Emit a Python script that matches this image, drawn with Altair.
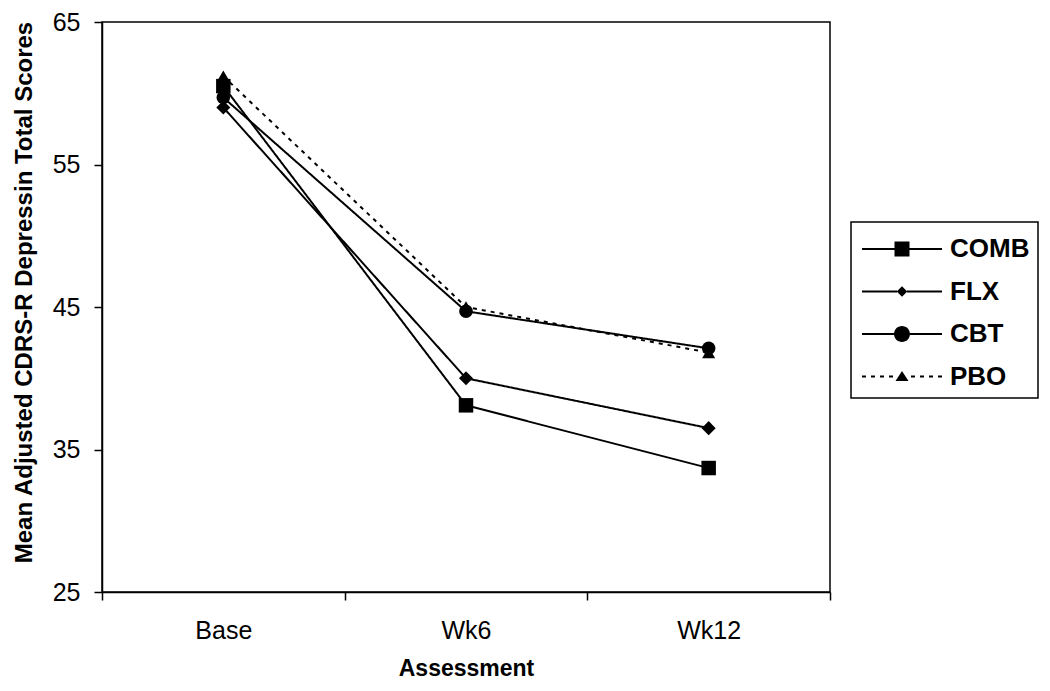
import json
import altair as alt
import pandas as pd

# ---- data ----
categories = ["Base", "Wk6", "Wk12"]
series = ["COMB", "FLX", "CBT", "PBO"]
comb = [60.5, 38.1, 33.7]
flx = [59.0, 40.0, 36.5]
cbt = [59.7, 44.7, 42.1]
pbo = [61.2, 45.0, 41.8]
y_ticks = [25, 35, 45, 55, 65]

rows = []
for name, vals in zip(series, [comb, flx, cbt, pbo]):
    for i, (cat, v) in enumerate(zip(categories, vals)):
        rows.append({"series": name, "assessment": cat, "idx": i, "score": v})
df = pd.DataFrame(rows)

FONT = "Liberation Sans"

# ---- x axis: ticks between categories, labels at category centres ----
n = len(categories)
x_values = sorted([i - 0.5 for i in range(n + 1)] + list(range(n)))
label_expr = "datum.value % 1 === 0 ? " + json.dumps(categories) + "[datum.value] : ''"

x_enc = alt.X(
    "idx:Q",
    scale=alt.Scale(domain=[-0.5, n - 0.5], nice=False, zero=False),
    axis=alt.Axis(
        values=x_values,
        labelExpr=label_expr,
        tickOpacity={"condition": {"test": "datum.value % 1 !== 0", "value": 1}, "value": 0},
        labelOverlap=False,
        labelFlush=False,
        title="Assessment",
        titleFontSize=23,
        titlePadding=14,
        labelPadding=18,
    ),
)
y_enc = alt.Y(
    "score:Q",
    scale=alt.Scale(domain=[25, 65], nice=False, zero=False),
    axis=alt.Axis(
        values=y_ticks,
        labelFlush=False,
        title="Mean Adjusted CDRS-R Depressin Total Scores",
        titleFontSize=24,
        titlePadding=16,
        titleY=270,
        labelPadding=14,
    ),
)

# ---- marker styles ----
shape_range = ["square", "diamond", "circle", "triangle-up"]
size_range = [210, 170, 390, 170]
dash_range = [[1, 0], [1, 0], [1, 0], [4, 5]]

DX = -1.0  # horizontal shift of legend symbols (in symbol units)


def f(v):
    return round(v + DX, 2)


# legend symbols: line segment through marker (units scaled by sqrt(symbolSize)/2)
def seg(a, b, h=0.2):
    return f"M{f(a)},{-h}H{f(b)}V{h}H{f(a)}Z"


def solid(left_end, right_start):
    return seg(-1, left_end) + seg(right_start, 15)


def dashed(left_end, right_start):
    p = ""
    a = -1.0
    while a + 0.8 <= left_end:
        p += seg(a, a + 0.8)
        a += 1.8
    b = 15.0
    while b - 0.8 >= right_start:
        p += seg(b - 0.8, b)
        b -= 1.8
    return p


legend_paths = [
    solid(5.5, 8.5) + f"M{f(5.5)},-1.5H{f(8.5)}V1.5H{f(5.5)}Z",
    solid(6, 8) + f"M{f(7)},-1.05L{f(8.05)},0L{f(7)},1.05L{f(5.95)},0Z",
    solid(5.4, 8.6) + f"M{f(5.4)},0A1.6,1.6 0 1,1 {f(8.6)},0A1.6,1.6 0 1,1 {f(5.4)},0Z",
    dashed(5.5, 8.5) + f"M{f(7)},-1.1L{f(8.3)},0.9L{f(5.7)},0.9Z",
]

base = alt.Chart(df)

lines = base.mark_line(color="black", strokeWidth=2).encode(
    x=x_enc,
    y=y_enc,
    detail="series:N",
    strokeDash=alt.StrokeDash(
        "series:N", scale=alt.Scale(domain=series, range=dash_range), legend=None
    ),
)

points = base.mark_point(filled=True, color="black", opacity=1).encode(
    x=x_enc,
    y=y_enc,
    shape=alt.Shape("series:N", scale=alt.Scale(domain=series, range=shape_range), legend=None),
    size=alt.Size("series:N", scale=alt.Scale(domain=series, range=size_range), legend=None),
)

legend_layer = base.mark_point(filled=True, color="black", opacity=0).encode(
    x=x_enc,
    y=y_enc,
    shape=alt.Shape(
        "series:N",
        scale=alt.Scale(domain=series, range=legend_paths),
        legend=alt.Legend(
            title=" ",
            titleFontSize=2,
            titlePadding=4,
            orient="none",
            legendX=749,
            legendY=200,
            symbolSize=100,
            symbolFillColor="black",
            symbolStrokeWidth=0,
            symbolOpacity=1,
            labelFont=FONT,
            labelFontSize=26,
            labelFontWeight="bold",
            labelColor="black",
            labelOffset=65,
            rowPadding=16.5,
            padding=8,
            strokeColor="black",
            fillColor="white",
        ),
    ),
)

chart = (
    alt.layer(lines, points, legend_layer)
    .resolve_scale(shape="independent")
    .properties(
        width=728,
        height=570,
        autosize=alt.AutoSizeParams(type="none"),
        padding={"left": 94, "top": 14, "right": 212, "bottom": 87},
        background="white",
    )
    .configure_view(stroke="black", strokeWidth=1.5)
    .configure_axis(
        grid=False,
        domainColor="black",
        domainWidth=1.5,
        tickColor="black",
        tickWidth=1.5,
        tickSize=8,
        labelFont=FONT,
        labelFontSize=25,
        labelColor="black",
        titleFont=FONT,
        titleFontWeight="bold",
        titleColor="black",
    )
    .configure_legend(strokeWidth=1.5)
)

chart.save("out.html", embed_options={"renderer": "svg", "actions": False})
